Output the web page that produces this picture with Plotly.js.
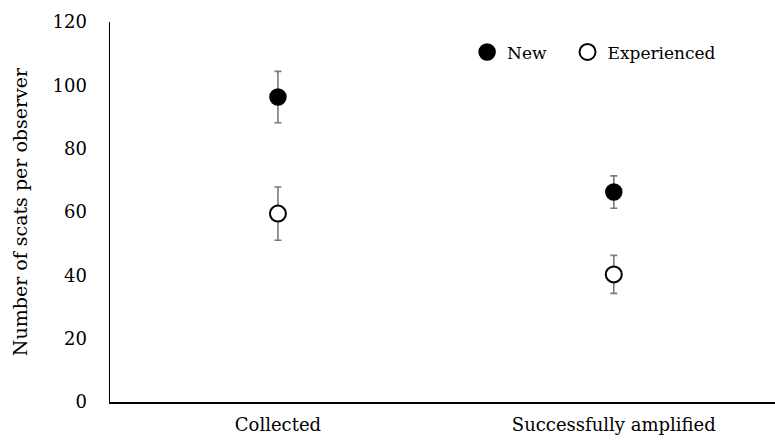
<!DOCTYPE html>
<html>
<head>
<meta charset="utf-8">
<script src="https://cdn.plot.ly/plotly-3.0.1.min.js"></script>
<style>html,body{margin:0;padding:0;background:#fff;}#chart{width:775px;height:440px;}</style>
</head>
<body>
<div id="chart"></div>
<script>
const categories = ["Collected", "Successfully amplified"];
const newMeans = [96.3, 66.3];
const newErrors = [8.1, 5.1];
const experiencedMeans = [59.5, 40.3];
const experiencedErrors = [8.4, 6.0];
const yTickValues = [0, 20, 40, 60, 80, 100, 120];

const FAMILY = "DejaVu Serif";

const traces = [
  {
    type: "scatter", mode: "markers", name: "New", legend: "legend",
    x: categories, y: newMeans,
    error_y: {type: "data", array: newErrors, visible: true, color: "#7a7a7a", thickness: 1.6, width: 3.5},
    marker: {symbol: "circle", size: 16, color: "#000", line: {color: "#000", width: 1.5}}
  },
  {
    type: "scatter", mode: "markers", name: "Experienced", legend: "legend2",
    x: categories, y: experiencedMeans,
    error_y: {type: "data", array: experiencedErrors, visible: true, color: "#7a7a7a", thickness: 1.6, width: 3.5},
    marker: {symbol: "circle", size: 16, color: "#fff", line: {color: "#000", width: 2}}
  }
];

const layout = {
  width: 775, height: 440,
  margin: {l: 110, r: 0, t: 22, b: 38},
  paper_bgcolor: "#fff", plot_bgcolor: "#fff",
  font: {family: FAMILY, size: 17, color: "#000"},
  showlegend: true,
  legend: {
    orientation: "h", x: 0.537, xanchor: "left", y: 0.92, yanchor: "middle",
    font: {family: FAMILY, size: 17, color: "#000"}, bgcolor: "rgba(0,0,0,0)", itemwidth: 30
  },
  legend2: {
    orientation: "h", x: 0.688, xanchor: "left", y: 0.92, yanchor: "middle",
    font: {family: FAMILY, size: 17, color: "#000"}, bgcolor: "rgba(0,0,0,0)", itemwidth: 30
  },
  xaxis: {
    type: "category", range: [-0.5, 1.48],
    showline: true, linecolor: "#000", linewidth: 1.5,
    showgrid: false, zeroline: false, ticks: "",
    tickfont: {family: FAMILY, size: 18, color: "#000"}, ticklabelstandoff: 6
  },
  yaxis: {
    range: [0, 120], tickvals: yTickValues, ticktext: yTickValues.map(String),
    showline: true, linecolor: "#000", linewidth: 1.5,
    showgrid: false, zeroline: false, ticks: "",
    tickfont: {family: FAMILY, size: 18, color: "#000"}, ticklabelstandoff: 18,
    title: {text: "Number of scats per observer", font: {family: FAMILY, size: 19, color: "#000"}, standoff: 20}
  }
};

Plotly.newPlot("chart", traces, layout, {displayModeBar: false, staticPlot: true});
</script>
</body>
</html>
